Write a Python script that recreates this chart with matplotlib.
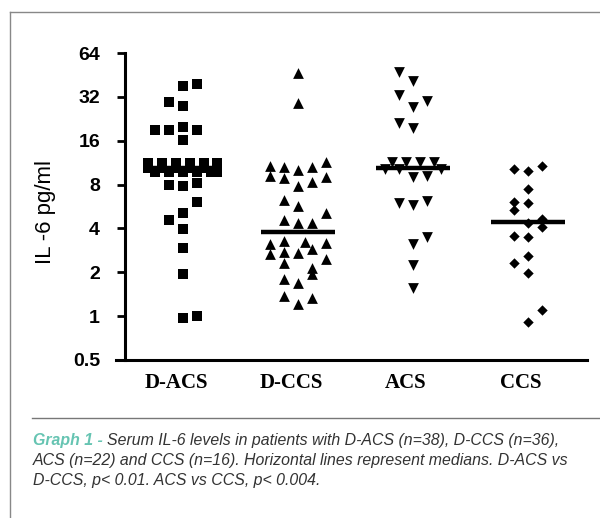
import numpy as np
import matplotlib
matplotlib.use("Agg")
import matplotlib.pyplot as plt
from matplotlib.lines import Line2D

# groups
groups = ["D-ACS", "D-CCS", "ACS", "CCS"]

# IL-6 values (pg/ml), with their jitter column
dacs_vals = [38.1, 39.3, 29.7, 27.8, 19.0, 18.9, 20.0, 19.0, 16.1,
             11.2, 11.2, 11.2, 11.2, 11.2, 11.2,
             10.4, 10.4, 10.4, 10.4, 10.4, 10.4,
             9.7, 9.7, 9.7, 9.7, 9.7, 9.7,
             7.9, 7.8, 8.2, 6.05, 5.12, 4.56, 3.98, 2.95, 1.94, 0.965, 1.0]
dacs_cols = [0, 1, -1, 0, -2, -1, 0, 1, 0,
             -2.5, -1.5, -0.5, 0.5, 1.5, 2.5,
             -2.5, -1.5, -0.5, 0.5, 1.5, 2.5,
             -2, -1, 0, 1, 2, 2.5,
             -1, 0, 1, 1, 0, -1, 0, 0, 0, 0, 1]

dccs_vals = [46.5, 29.0,
             10.8, 10.6, 10.1, 10.6, 11.4,
             9.1, 8.9, 8.3, 9.0,
             7.8, 6.3, 5.7,
             4.56, 4.33, 4.38, 5.07,
             3.11, 3.27, 3.22, 2.87, 3.16,
             2.66, 2.75, 2.73, 2.48,
             2.33, 2.15, 1.94,
             1.79, 1.68,
             1.38, 1.21, 1.34]
dccs_cols = [0, 0,
             -2, -1, 0, 1, 2,
             -2, -1, 1, 2,
             0, -1, 0,
             -1, 0, 1, 2,
             -2, -1, 0.5, 1, 2,
             -2, -1, 0, 2,
             -1, 1, 1,
             -1, 0,
             -1, 0, 1]

acs_vals = [47.7, 41.4, 33.0, 27.2, 30.2, 21.1, 19.5,
            11.4, 11.4, 11.4, 11.4, 10.3, 10.3, 10.3, 9.0, 9.2,
            6.0, 5.75, 6.15, 3.51, 3.11, 2.23, 1.57]
acs_cols = [-1, 0, -1, 0, 1, -1, 0,
            -1.5, -0.5, 0.5, 1.5, -2, -1, 2, 0, 1,
            -1, 0, 1, 1, 0, 0, 0]

ccs_vals = [10.25, 9.87, 10.8, 7.47, 6.05, 6.0, 5.34, 4.38, 4.66, 4.11,
            3.54, 3.51, 2.58, 2.30, 1.99, 1.10, 0.91]
ccs_cols = [-1, 0, 1, 0, -1, 0, -1, 0, 1, 1,
            -1, 0, 0, -1, 0, 1, 0]

medians = [10.4, 3.77, 10.4, 4.42]

yticks = [0.5, 1, 2, 4, 8, 16, 32, 64]
ytick_labels = ["0.5", "1", "2", "4", "8", "16", "32", "64"]

fig = plt.figure(figsize=(6, 5.18), dpi=100)
ax = fig.add_axes([125 / 600, 1 - 360 / 518, 462 / 600, 307 / 518])

dx = 0.12
series = [(dacs_vals, dacs_cols, "s", 50),
          (dccs_vals, dccs_cols, "^", 60),
          (acs_vals, acs_cols, "v", 60),
          (ccs_vals, ccs_cols, "D", 28)]
for i, (vals, cols, mk, s) in enumerate(series):
    x = (i + 1) + np.array(cols) * dx
    ax.scatter(x, vals, marker=mk, s=s, color="black", linewidths=0, zorder=3)

# median lines
for i, m in enumerate(medians):
    ax.hlines(m, i + 1 - 0.32, i + 1 + 0.32, color="black", lw=3.2, zorder=4)

ax.set_yscale("log", base=2)
ax.set_ylim(0.5, 64)
ax.set_xlim(0.496, 4.513)
ax.set_yticks(yticks)
ax.set_yticklabels(ytick_labels, fontsize=14, fontweight="bold", family="Liberation Sans")
ax.yaxis.set_minor_locator(matplotlib.ticker.NullLocator())
ax.tick_params(axis="y", length=6, width=2, pad=12)

ax.set_xticks([i + 1 - 0.06 for i in range(len(groups))])
ax.set_xticklabels(groups, fontsize=15, fontweight="bold", family="Liberation Serif")
ax.tick_params(axis="x", length=0, pad=9)

for side in ["top", "right"]:
    ax.spines[side].set_visible(False)
ax.spines["left"].set_linewidth(2.2)
ax.spines["bottom"].set_linewidth(2.2)
ax.spines["bottom"].set_bounds(0.42, 4.513)

fig.text(45 / 600, 1 - 212 / 518, "IL -6 pg/ml", rotation=90, ha="center", va="center",
         fontsize=16, family="Liberation Sans")

# frame and separator
fig.add_artist(Line2D([10 / 600, 10 / 600], [0, 1 - 12 / 518], color="#888888", lw=1))
fig.add_artist(Line2D([10 / 600, 1], [1 - 12 / 518, 1 - 12 / 518], color="#888888", lw=1))
fig.add_artist(Line2D([32 / 600, 1], [1 - 418 / 518, 1 - 418 / 518], color="#777777", lw=1))

# caption
cap_font = "Liberation Sans"
cap_size = 11.4
t1 = fig.text(33 / 600, 1 - 440 / 518, "Graph 1 - ", color="#66c4b2", fontsize=cap_size,
              fontweight="bold", style="italic", family=cap_font, va="center")
ax.annotate("Serum IL-6 levels in patients with D-ACS (n=38), D-CCS (n=36),",
            xy=(1, 0.5), xycoords=t1, va="center", ha="left", color="#333333",
            fontsize=cap_size, style="italic", family=cap_font, annotation_clip=False)
fig.text(33 / 600, 1 - 461 / 518,
         "ACS (n=22) and CCS (n=16). Horizontal lines represent medians. D-ACS vs",
         color="#333333", fontsize=cap_size, style="italic", family=cap_font, va="center")
fig.text(33 / 600, 1 - 481 / 518, "D-CCS, p< 0.01. ACS vs CCS, p< 0.004.",
         color="#333333", fontsize=cap_size, style="italic", family=cap_font, va="center")

fig.savefig("out.png", dpi=100)
